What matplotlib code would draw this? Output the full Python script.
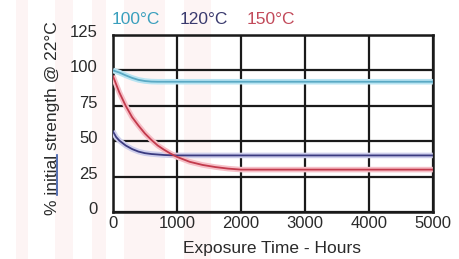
import matplotlib
matplotlib.use("Agg")
import matplotlib.pyplot as plt
import matplotlib.transforms as mtransforms
from matplotlib.patches import Rectangle

# (hours, % of initial strength)
t_100 = [0, 100, 200, 300, 400, 500, 600, 700, 5000]
s_100 = [100, 98.5, 96.5, 94.7, 93.3, 92.5, 92.1, 92, 92]

t_120 = [0, 50, 100, 200, 300, 400, 500, 600, 800, 1000, 5000]
s_120 = [57, 53, 50.5, 47, 44.5, 42.7, 41.6, 41, 40.3, 40, 40]

t_150 = [0, 100, 200, 300, 400, 500, 600, 700, 800, 900, 1000,
         1200, 1400, 1600, 1800, 2000, 5000]
s_150 = [96, 84.5, 75, 67, 61, 55.5, 51, 47, 44, 41.3, 39,
         35.5, 33.3, 31.8, 30.7, 30, 30]

legend_labels = ["100°C", "120°C", "150°C"]
x_ticks = [0, 1000, 2000, 3000, 4000, 5000]
y_ticks = [0, 25, 50, 75, 100, 125]

plt.rcParams["font.family"] = ["Liberation Sans", "DejaVu Sans"]

C_LINE = {"100°C": "#5aa9c4", "120°C": "#3b3b80", "150°C": "#c23a4c"}
C_BAND = {"100°C": "#b8e4f2", "120°C": "#cfcfec", "150°C": "#f6bfc7"}
C_TEXT = {"100°C": "#3a9fbd", "120°C": "#3a3a6e", "150°C": "#c24a5a"}
FS = 12.5
INK = "#2a2a2a"

fig = plt.figure(figsize=(4.59, 2.59), dpi=100)
fig.patch.set_facecolor("white")

# very faint pink stripes in the background of the source image
for x0, w in [(0.035, 0.025), (0.12, 0.04), (0.20, 0.03), (0.27, 0.09), (0.40, 0.06)]:
    fig.patches.append(Rectangle((x0, 0), w, 1, transform=fig.transFigure,
                                 color="#fdf4f4", zorder=-5, lw=0))

ax = fig.add_axes([0.246, 0.181, 0.697, 0.684])
ax.set_facecolor("none")

series = [(t_100, s_100), (t_120, s_120), (t_150, s_150)]
for name, (t, s) in zip(legend_labels, series):
    ax.plot(t, s, color=C_BAND[name], lw=4, solid_capstyle="butt", zorder=3)
    ax.plot(t, s, color=C_LINE[name], lw=1.3, zorder=4)

ax.set_xlim(0, 5000)
ax.set_ylim(0, 125)
ax.set_xticks(x_ticks)
ax.set_yticks(y_ticks)
ax.grid(True, color="#1a1a1a", lw=1.6, zorder=2)
ax.set_axisbelow(False)
for sp in ax.spines.values():
    sp.set_color("#1a1a1a")
    sp.set_linewidth(1.8)
ax.tick_params(length=0, labelsize=12, labelcolor=INK)
ax.tick_params(axis="y", pad=11)
ax.tick_params(axis="x", pad=3)
off = mtransforms.ScaledTranslation(0, 4 / 100, fig.dpi_scale_trans)
for lbl in ax.get_yticklabels():
    lbl.set_transform(lbl.get_transform() + off)

fig.text(272 / 459, 1 - 248 / 259, "Exposure Time - Hours", ha="center",
         va="center", fontsize=FS, color=INK)

# rotated y label with "initial" underlined
ylab = "% initial strength @ 22°C"
lx, ly = 53 / 459, 1 - 118 / 259
ytxt = fig.text(lx, ly, ylab, rotation=90, ha="center", va="center",
                fontsize=FS, color=INK)
fig.canvas.draw()
r = fig.canvas.get_renderer()
bb = ytxt.get_window_extent(r)


def text_width(s):
    tt = fig.text(0, 0, s, fontsize=FS)
    w = tt.get_window_extent(r).width
    tt.remove()
    return w


pre = text_width("% ")
ini = text_width("% initial")
H, W = fig.bbox.height, fig.bbox.width
xu = bb.x1 - 3.5
fig.add_artist(plt.Line2D([xu / W] * 2, [(bb.y0 + pre) / H, (bb.y0 + ini) / H],
                          transform=fig.transFigure, color="#3558a8", lw=1.2))

# coloured series labels above the plot
for name, x in zip(legend_labels, [112, 180, 247]):
    fig.text(x / 459, 1 - 20 / 259, name, ha="left", va="center",
             fontsize=FS, color=C_TEXT[name])

fig.savefig("out.png", dpi=100)
